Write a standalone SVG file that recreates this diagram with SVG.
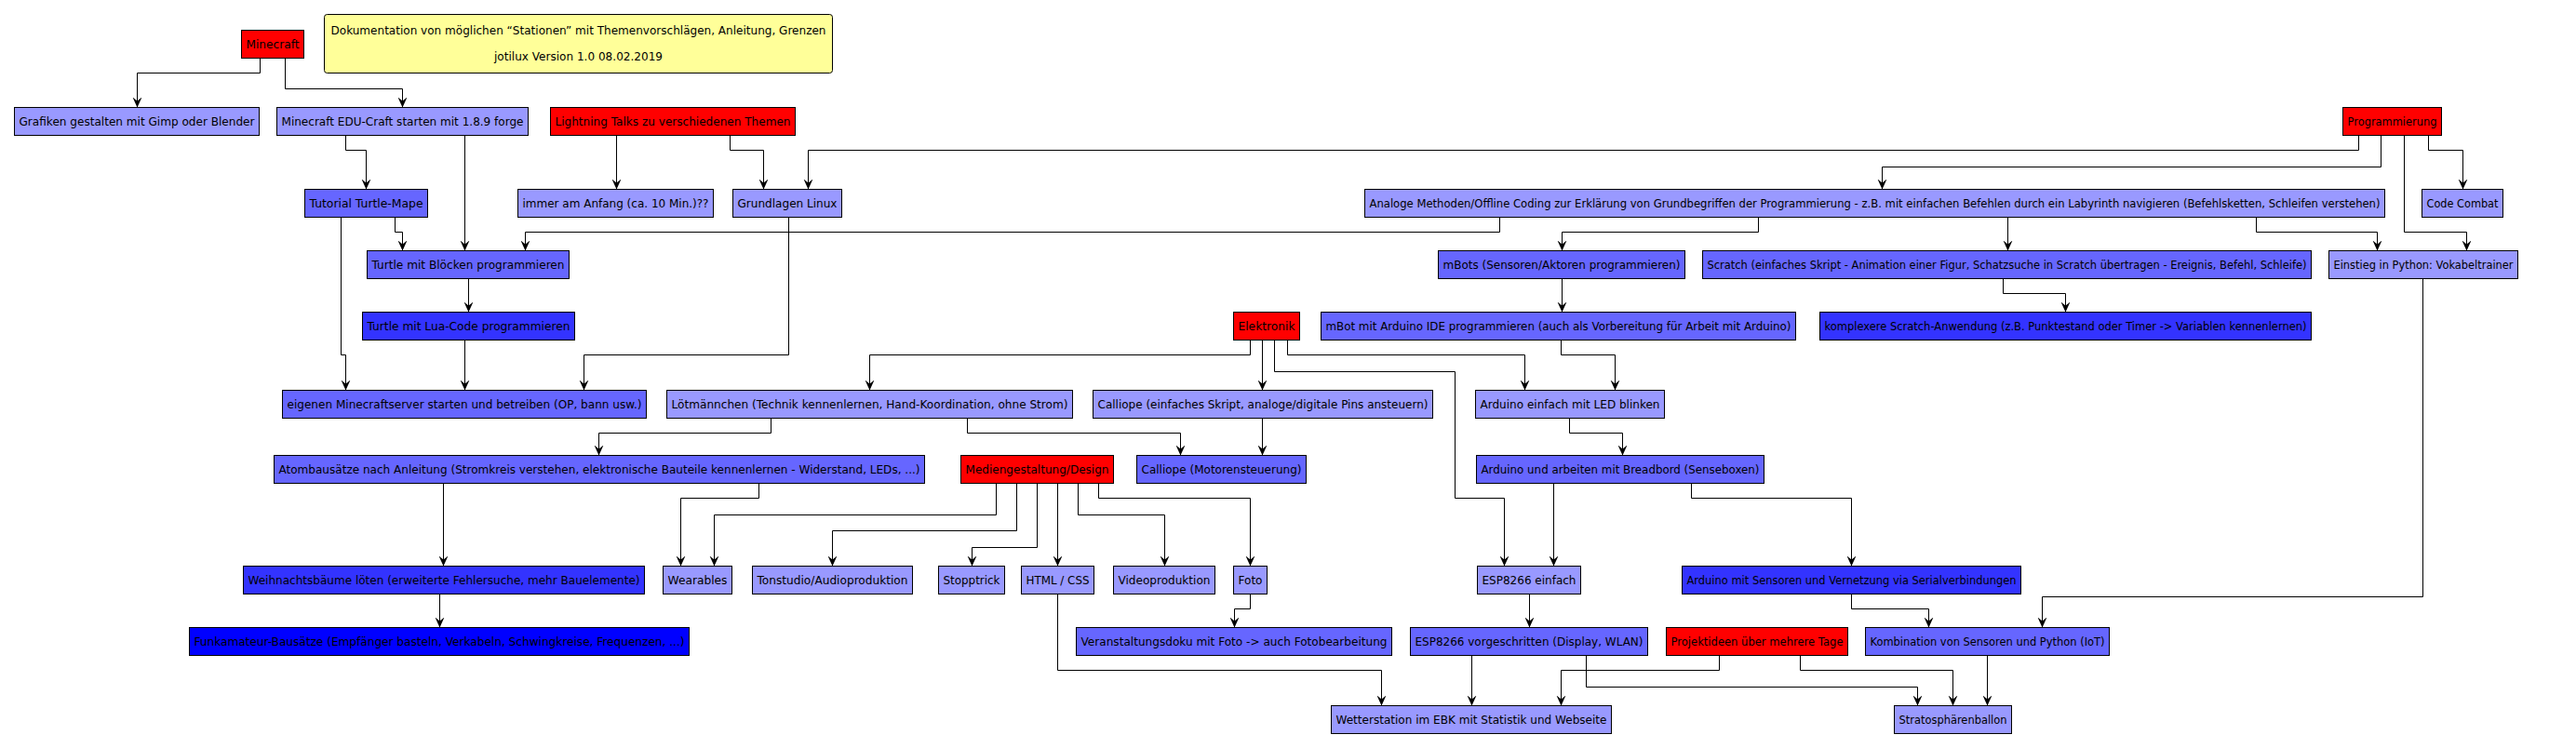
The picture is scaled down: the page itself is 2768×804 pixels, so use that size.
<svg xmlns="http://www.w3.org/2000/svg" width="2768" height="804" viewBox="0 0 2768 804">
<style>
.r,.l,.m,.d,.x,.n{stroke:#000;stroke-width:1}
.r{fill:#FF0000}
.l{fill:#9999FF}
.m{fill:#6666FF}
.d{fill:#3333FF}
.x{fill:#0000FF}
.n{fill:#FFFF99}
text{font-family:"DejaVu Sans",sans-serif;font-size:12px;fill:#000;text-anchor:middle}
#connectors path{fill:none;stroke:#000;stroke-width:1;marker-end:url(#a)}
</style>
<defs>
<marker id="a" markerUnits="userSpaceOnUse" markerWidth="12" markerHeight="12" viewBox="-11 -6 12 12" refX="0" refY="0" orient="auto">
<path d="M0,0 L-11,-5 L-7,0 L-11,5 Z" fill="#000"/>
</marker>
</defs>
<rect width="2768" height="804" fill="#fff"/>
<g id="note"><rect class="n" x="348.5" y="15.5" width="546" height="63" rx="3"/><text x="621.5" y="37" textLength="532" lengthAdjust="spacingAndGlyphs">Dokumentation von möglichen “Stationen” mit Themenvorschlägen, Anleitung, Grenzen</text><text x="621.5" y="65" textLength="181" lengthAdjust="spacingAndGlyphs">jotilux Version 1.0 08.02.2019</text></g>
<g id="minecraft"><rect class="r" x="259.5" y="32.5" width="67" height="30"/><text x="293" y="52" textLength="57" lengthAdjust="spacingAndGlyphs">Minecraft</text></g>
<g id="grafiken"><rect class="l" x="15.5" y="115.5" width="263" height="30"/><text x="147" y="135" textLength="253" lengthAdjust="spacingAndGlyphs">Grafiken gestalten mit Gimp oder Blender</text></g>
<g id="edu"><rect class="l" x="297.5" y="115.5" width="270" height="30"/><text x="432.5" y="135" textLength="260" lengthAdjust="spacingAndGlyphs">Minecraft EDU-Craft starten mit 1.8.9 forge</text></g>
<g id="lightning"><rect class="r" x="591.5" y="115.5" width="263" height="30"/><text x="723" y="135" textLength="253" lengthAdjust="spacingAndGlyphs">Lightning Talks zu verschiedenen Themen</text></g>
<g id="programmierung"><rect class="r" x="2517.5" y="115.5" width="106" height="30"/><text x="2570.5" y="135" textLength="96" lengthAdjust="spacingAndGlyphs">Programmierung</text></g>
<g id="tutorial"><rect class="m" x="327.5" y="203.5" width="132" height="30"/><text x="393.5" y="223" textLength="122" lengthAdjust="spacingAndGlyphs">Tutorial Turtle-Mape</text></g>
<g id="immer"><rect class="l" x="556.5" y="203.5" width="210" height="30"/><text x="661.5" y="223" textLength="200" lengthAdjust="spacingAndGlyphs">immer am Anfang (ca. 10 Min.)??</text></g>
<g id="linux"><rect class="l" x="787.5" y="203.5" width="117" height="30"/><text x="846" y="223" textLength="107" lengthAdjust="spacingAndGlyphs">Grundlagen Linux</text></g>
<g id="analoge"><rect class="l" x="1466.5" y="203.5" width="1096" height="30"/><text x="2014.5" y="223" textLength="1086" lengthAdjust="spacingAndGlyphs">Analoge Methoden/Offline Coding zur Erklärung von Grundbegriffen der Programmierung - z.B. mit einfachen Befehlen durch ein Labyrinth navigieren (Befehlsketten, Schleifen verstehen)</text></g>
<g id="codecombat"><rect class="l" x="2602.5" y="203.5" width="87" height="30"/><text x="2646" y="223" textLength="77" lengthAdjust="spacingAndGlyphs">Code Combat</text></g>
<g id="bloecke"><rect class="m" x="394.5" y="269.5" width="217" height="30"/><text x="503" y="289" textLength="207" lengthAdjust="spacingAndGlyphs">Turtle mit Blöcken programmieren</text></g>
<g id="mbots"><rect class="m" x="1545.5" y="269.5" width="265" height="30"/><text x="1678" y="289" textLength="255" lengthAdjust="spacingAndGlyphs">mBots (Sensoren/Aktoren programmieren)</text></g>
<g id="scratch"><rect class="m" x="1829.5" y="269.5" width="654" height="30"/><text x="2156.5" y="289" textLength="644" lengthAdjust="spacingAndGlyphs">Scratch (einfaches Skript - Animation einer Figur, Schatzsuche in Scratch übertragen - Ereignis, Befehl, Schleife)</text></g>
<g id="python"><rect class="l" x="2502.5" y="269.5" width="203" height="30"/><text x="2604" y="289" textLength="193" lengthAdjust="spacingAndGlyphs">Einstieg in Python: Vokabeltrainer</text></g>
<g id="lua"><rect class="d" x="389.5" y="335.5" width="228" height="30"/><text x="503.5" y="355" textLength="218" lengthAdjust="spacingAndGlyphs">Turtle mit Lua-Code programmieren</text></g>
<g id="elektronik"><rect class="r" x="1325.5" y="335.5" width="71" height="30"/><text x="1361" y="355" textLength="61" lengthAdjust="spacingAndGlyphs">Elektronik</text></g>
<g id="mbotarduino"><rect class="m" x="1419.5" y="335.5" width="510" height="30"/><text x="1674.5" y="355" textLength="500" lengthAdjust="spacingAndGlyphs">mBot mit Arduino IDE programmieren (auch als Vorbereitung für Arbeit mit Arduino)</text></g>
<g id="komplexscratch"><rect class="d" x="1955.5" y="335.5" width="528" height="30"/><text x="2219.5" y="355" textLength="518" lengthAdjust="spacingAndGlyphs">komplexere Scratch-Anwendung (z.B. Punktestand oder Timer -&gt; Variablen kennenlernen)</text></g>
<g id="server"><rect class="m" x="303.5" y="419.5" width="391" height="30"/><text x="499" y="439" textLength="381" lengthAdjust="spacingAndGlyphs">eigenen Minecraftserver starten und betreiben (OP, bann usw.)</text></g>
<g id="loet"><rect class="l" x="716.5" y="419.5" width="436" height="30"/><text x="934.5" y="439" textLength="426" lengthAdjust="spacingAndGlyphs">Lötmännchen (Technik kennenlernen, Hand-Koordination, ohne Strom)</text></g>
<g id="calliope1"><rect class="l" x="1174.5" y="419.5" width="365" height="30"/><text x="1357" y="439" textLength="355" lengthAdjust="spacingAndGlyphs">Calliope (einfaches Skript, analoge/digitale Pins ansteuern)</text></g>
<g id="arduinoled"><rect class="l" x="1585.5" y="419.5" width="203" height="30"/><text x="1687" y="439" textLength="193" lengthAdjust="spacingAndGlyphs">Arduino einfach mit LED blinken</text></g>
<g id="atom"><rect class="m" x="294.5" y="489.5" width="699" height="30"/><text x="644" y="509" textLength="689" lengthAdjust="spacingAndGlyphs">Atombausätze nach Anleitung (Stromkreis verstehen, elektronische Bauteile kennenlernen - Widerstand, LEDs, ...)</text></g>
<g id="medien"><rect class="r" x="1032.5" y="489.5" width="164" height="30"/><text x="1114.5" y="509" textLength="154" lengthAdjust="spacingAndGlyphs">Mediengestaltung/Design</text></g>
<g id="calliope2"><rect class="m" x="1221.5" y="489.5" width="182" height="30"/><text x="1312.5" y="509" textLength="172" lengthAdjust="spacingAndGlyphs">Calliope (Motorensteuerung)</text></g>
<g id="breadbord"><rect class="m" x="1586.5" y="489.5" width="309" height="30"/><text x="1741" y="509" textLength="299" lengthAdjust="spacingAndGlyphs">Arduino und arbeiten mit Breadbord (Senseboxen)</text></g>
<g id="weihnacht"><rect class="d" x="261.5" y="608.5" width="431" height="30"/><text x="477" y="628" textLength="421" lengthAdjust="spacingAndGlyphs">Weihnachtsbäume löten (erweiterte Fehlersuche, mehr Bauelemente)</text></g>
<g id="wearables"><rect class="l" x="712.5" y="608.5" width="74" height="30"/><text x="749.5" y="628" textLength="64" lengthAdjust="spacingAndGlyphs">Wearables</text></g>
<g id="tonstudio"><rect class="l" x="808.5" y="608.5" width="172" height="30"/><text x="894.5" y="628" textLength="162" lengthAdjust="spacingAndGlyphs">Tonstudio/Audioproduktion</text></g>
<g id="stopptrick"><rect class="l" x="1008.5" y="608.5" width="71" height="30"/><text x="1044" y="628" textLength="61" lengthAdjust="spacingAndGlyphs">Stopptrick</text></g>
<g id="html"><rect class="l" x="1097.5" y="608.5" width="78" height="30"/><text x="1136.5" y="628" textLength="68" lengthAdjust="spacingAndGlyphs">HTML / CSS</text></g>
<g id="video"><rect class="l" x="1196.5" y="608.5" width="109" height="30"/><text x="1251" y="628" textLength="99" lengthAdjust="spacingAndGlyphs">Videoproduktion</text></g>
<g id="foto"><rect class="l" x="1325.5" y="608.5" width="36" height="30"/><text x="1343.5" y="628" textLength="26" lengthAdjust="spacingAndGlyphs">Foto</text></g>
<g id="esp1"><rect class="l" x="1587.5" y="608.5" width="111" height="30"/><text x="1643" y="628" textLength="101" lengthAdjust="spacingAndGlyphs">ESP8266 einfach</text></g>
<g id="arduinosens"><rect class="d" x="1807.5" y="608.5" width="364" height="30"/><text x="1989.5" y="628" textLength="354" lengthAdjust="spacingAndGlyphs">Arduino mit Sensoren und Vernetzung via Serialverbindungen</text></g>
<g id="funk"><rect class="x" x="203.5" y="674.5" width="537" height="30"/><text x="472" y="694" textLength="527" lengthAdjust="spacingAndGlyphs">Funkamateur-Bausätze (Empfänger basteln, Verkabeln, Schwingkreise, Frequenzen, ...)</text></g>
<g id="doku"><rect class="m" x="1156.5" y="674.5" width="339" height="30"/><text x="1326" y="694" textLength="329" lengthAdjust="spacingAndGlyphs">Veranstaltungsdoku mit Foto -&gt; auch Fotobearbeitung</text></g>
<g id="esp2"><rect class="m" x="1515.5" y="674.5" width="255" height="30"/><text x="1643" y="694" textLength="245" lengthAdjust="spacingAndGlyphs">ESP8266 vorgeschritten (Display, WLAN)</text></g>
<g id="projekt"><rect class="r" x="1790.5" y="674.5" width="195" height="30"/><text x="1888" y="694" textLength="185" lengthAdjust="spacingAndGlyphs">Projektideen über mehrere Tage</text></g>
<g id="kombi"><rect class="m" x="2004.5" y="674.5" width="262" height="30"/><text x="2135.5" y="694" textLength="252" lengthAdjust="spacingAndGlyphs">Kombination von Sensoren und Python (IoT)</text></g>
<g id="wetter"><rect class="l" x="1430.5" y="758.5" width="301" height="30"/><text x="1581" y="778" textLength="291" lengthAdjust="spacingAndGlyphs">Wetterstation im EBK mit Statistik und Webseite</text></g>
<g id="strato"><rect class="l" x="2035.5" y="758.5" width="126" height="30"/><text x="2098.5" y="778" textLength="116" lengthAdjust="spacingAndGlyphs">Stratosphärenballon</text></g>
<g id="connectors">
<path d="M279.5,62.5 V78.5 H147.5 V115.5"/>
<path d="M306.5,62.5 V95.5 H432.5 V115.5"/>
<path d="M371.5,145.5 V161.5 H393.5 V203.5"/>
<path d="M499.5,145.5 V269.5"/>
<path d="M662.5,145.5 V203.5"/>
<path d="M784.5,145.5 V161.5 H820.5 V203.5"/>
<path d="M2534.5,145.5 V161.5 H868.5 V203.5"/>
<path d="M2558.5,145.5 V179.5 H2022.5 V203.5"/>
<path d="M2583.5,145.5 V249.5 H2650.5 V269.5"/>
<path d="M2609.5,145.5 V161.5 H2646.5 V203.5"/>
<path d="M424.5,233.5 V249.5 H432.5 V269.5"/>
<path d="M1611.5,233.5 V249.5 H564.5 V269.5"/>
<path d="M1889.5,233.5 V249.5 H1678.5 V269.5"/>
<path d="M2157.5,233.5 V269.5"/>
<path d="M2424.5,233.5 V249.5 H2554.5 V269.5"/>
<path d="M366.5,233.5 V381.5 H371.5 V419.5"/>
<path d="M503.5,299.5 V335.5"/>
<path d="M499.5,365.5 V419.5"/>
<path d="M847.5,233.5 V381.5 H627.5 V419.5"/>
<path d="M1678.5,299.5 V335.5"/>
<path d="M2152.5,299.5 V315.5 H2219.5 V335.5"/>
<path d="M2603.5,299.5 V641.5 H2194.5 V674.5"/>
<path d="M1343.5,365.5 V381.5 H934.5 V419.5"/>
<path d="M1356.5,365.5 V419.5"/>
<path d="M1369.5,365.5 V399.5 H1563.5 V535.5 H1616.5 V608.5"/>
<path d="M1383.5,365.5 V381.5 H1638.5 V419.5"/>
<path d="M1677.5,365.5 V381.5 H1735.5 V419.5"/>
<path d="M828.5,449.5 V465.5 H643.5 V489.5"/>
<path d="M1039.5,449.5 V465.5 H1268.5 V489.5"/>
<path d="M1356.5,449.5 V489.5"/>
<path d="M1686.5,449.5 V465.5 H1743.5 V489.5"/>
<path d="M476.5,519.5 V608.5"/>
<path d="M815.5,519.5 V535.5 H731.5 V608.5"/>
<path d="M1070.5,519.5 V553.5 H767.5 V608.5"/>
<path d="M1092.5,519.5 V570.5 H894.5 V608.5"/>
<path d="M1114.5,519.5 V588.5 H1044.5 V608.5"/>
<path d="M1136.5,519.5 V608.5"/>
<path d="M1158.5,519.5 V553.5 H1251.5 V608.5"/>
<path d="M1180.5,519.5 V535.5 H1343.5 V608.5"/>
<path d="M1669.5,519.5 V608.5"/>
<path d="M1817.5,519.5 V535.5 H1989.5 V608.5"/>
<path d="M472.5,638.5 V674.5"/>
<path d="M1343.5,638.5 V654.5 H1326.5 V674.5"/>
<path d="M1643.5,638.5 V674.5"/>
<path d="M1989.5,638.5 V654.5 H2072.5 V674.5"/>
<path d="M1136.5,638.5 V720.5 H1484.5 V758.5"/>
<path d="M1581.5,704.5 V758.5"/>
<path d="M1847.5,704.5 V720.5 H1677.5 V758.5"/>
<path d="M1704.5,704.5 V738.5 H2060.5 V758.5"/>
<path d="M1934.5,704.5 V720.5 H2098.5 V758.5"/>
<path d="M2135.5,704.5 V758.5"/>
</g>
</svg>
